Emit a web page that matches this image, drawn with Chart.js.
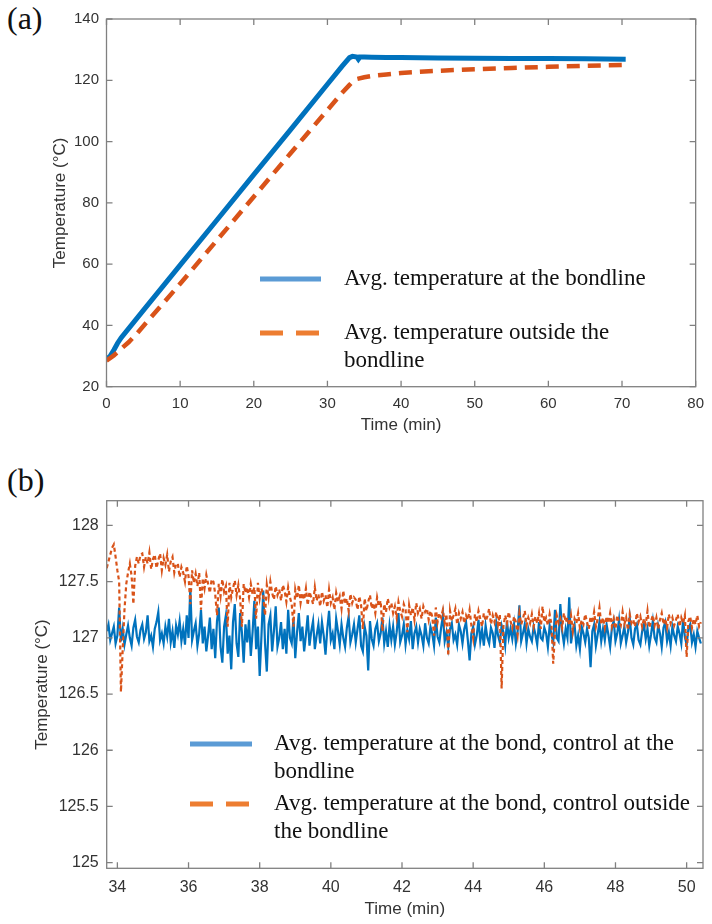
<!DOCTYPE html>
<html>
<head>
<meta charset="utf-8">
<script src="https://cdn.jsdelivr.net/npm/chart.js@4.4.1/dist/chart.umd.min.js"></script>
<style>
  html, body { margin: 0; padding: 0; background: #fff; }
  body { width: 712px; height: 924px; position: relative; overflow: hidden; }
  .panel { position: absolute; left: 0; width: 712px; }
  .tag { position: absolute; left: 7px; font: 32px/1 "Liberation Serif", "Times New Roman", serif; color: #111; }
</style>
</head>
<body>
<div class="tag" style="top:2px">(a)</div>
<div class="tag" style="top:464px">(b)</div>
<div class="panel" style="top:0; height:445px"><canvas id="chartA"></canvas></div>
<div class="panel" style="top:445px; height:479px"><canvas id="chartB"></canvas></div>
<script>
// ---- panel (a): whole cure cycle ----
const timeBondA = [0, 0.5, 1, 1.5, 2, 5, 10, 15, 20, 25, 30, 32, 33, 33.4, 34, 34.2, 34.4, 35, 36, 38, 40, 45, 50, 55, 60, 65, 70.5];
const tempBondA = [29.0, 30.0, 32.0, 34.2, 36.0, 44.9, 59.7, 74.4, 89.2, 103.9, 118.7, 124.6, 127.4, 127.8, 127.6, 126.9, 127.6, 127.6, 127.5, 127.4, 127.4, 127.3, 127.2, 127.1, 127.1, 127.0, 126.9];
const timeOutA = [0, 1, 2, 3, 4, 10, 15, 20, 25, 30, 32, 33, 33.5, 34, 35, 36, 38, 40, 45, 50, 55, 60, 65, 70.5];
const tempOutA = [28.5, 30.2, 32.4, 34.5, 37.0, 53.6, 67.8, 82.0, 96.2, 110.3, 115.9, 118.5, 119.7, 120.4, 121.0, 121.4, 121.9, 122.4, 123.1, 123.6, 124.0, 124.4, 124.7, 125.0];
const xTicksA = [0, 10, 20, 30, 40, 50, 60, 70, 80];
const yTicksA = [20, 40, 60, 80, 100, 120, 140];
const legendA = [['Avg. temperature at the bondline'], ['Avg. temperature outside the', 'bondline']];

// ---- panel (b): hold at 127 C, zoomed, one row per minute ----
const timeB = [
  33.7, 33.75, 33.8, 33.85, 33.9, 33.95, 34.0, 34.05, 34.1, 34.15, 34.2, 34.25, 34.3, 34.35, 34.4, 34.45, 34.5, 34.55, 34.6, 34.65,
  34.7, 34.75, 34.8, 34.85, 34.9, 34.95, 35.0, 35.05, 35.1, 35.15, 35.2, 35.25, 35.3, 35.35, 35.4, 35.45, 35.5, 35.55, 35.6, 35.65,
  35.7, 35.75, 35.8, 35.85, 35.9, 35.95, 36.0, 36.05, 36.1, 36.15, 36.2, 36.25, 36.3, 36.35, 36.4, 36.45, 36.5, 36.55, 36.6, 36.65,
  36.7, 36.75, 36.8, 36.85, 36.9, 36.95, 37.0, 37.05, 37.1, 37.15, 37.2, 37.25, 37.3, 37.35, 37.4, 37.45, 37.5, 37.55, 37.6, 37.65,
  37.7, 37.75, 37.8, 37.85, 37.9, 37.95, 38.0, 38.05, 38.1, 38.15, 38.2, 38.25, 38.3, 38.35, 38.4, 38.45, 38.5, 38.55, 38.6, 38.65,
  38.7, 38.75, 38.8, 38.85, 38.9, 38.95, 39.0, 39.05, 39.1, 39.15, 39.2, 39.25, 39.3, 39.35, 39.4, 39.45, 39.5, 39.55, 39.6, 39.65,
  39.7, 39.75, 39.8, 39.85, 39.9, 39.95, 40.0, 40.05, 40.1, 40.15, 40.2, 40.25, 40.3, 40.35, 40.4, 40.45, 40.5, 40.55, 40.6, 40.65,
  40.7, 40.75, 40.8, 40.85, 40.9, 40.95, 41.0, 41.05, 41.1, 41.15, 41.2, 41.25, 41.3, 41.35, 41.4, 41.45, 41.5, 41.55, 41.6, 41.65,
  41.7, 41.75, 41.8, 41.85, 41.9, 41.95, 42.0, 42.05, 42.1, 42.15, 42.2, 42.25, 42.3, 42.35, 42.4, 42.45, 42.5, 42.55, 42.6, 42.65,
  42.7, 42.75, 42.8, 42.85, 42.9, 42.95, 43.0, 43.05, 43.1, 43.15, 43.2, 43.25, 43.3, 43.35, 43.4, 43.45, 43.5, 43.55, 43.6, 43.65,
  43.7, 43.75, 43.8, 43.85, 43.9, 43.95, 44.0, 44.05, 44.1, 44.15, 44.2, 44.25, 44.3, 44.35, 44.4, 44.45, 44.5, 44.55, 44.6, 44.65,
  44.7, 44.75, 44.8, 44.85, 44.9, 44.95, 45.0, 45.05, 45.1, 45.15, 45.2, 45.25, 45.3, 45.35, 45.4, 45.45, 45.5, 45.55, 45.6, 45.65,
  45.7, 45.75, 45.8, 45.85, 45.9, 45.95, 46.0, 46.05, 46.1, 46.15, 46.2, 46.25, 46.3, 46.35, 46.4, 46.45, 46.5, 46.55, 46.6, 46.65,
  46.7, 46.75, 46.8, 46.85, 46.9, 46.95, 47.0, 47.05, 47.1, 47.15, 47.2, 47.25, 47.3, 47.35, 47.4, 47.45, 47.5, 47.55, 47.6, 47.65,
  47.7, 47.75, 47.8, 47.85, 47.9, 47.95, 48.0, 48.05, 48.1, 48.15, 48.2, 48.25, 48.3, 48.35, 48.4, 48.45, 48.5, 48.55, 48.6, 48.65,
  48.7, 48.75, 48.8, 48.85, 48.9, 48.95, 49.0, 49.05, 49.1, 49.15, 49.2, 49.25, 49.3, 49.35, 49.4, 49.45, 49.5, 49.55, 49.6, 49.65,
  49.7, 49.75, 49.8, 49.85, 49.9, 49.95, 50.0, 50.05, 50.1, 50.15, 50.2, 50.25, 50.3, 50.35, 50.4
];
const tempBondB = [
  127.06, 127.12, 126.98, 127.04, 127.10, 126.95, 127.02, 127.27, 126.97, 127.08, 126.94, 127.03, 127.11, 127.00, 126.93, 127.09, 127.16, 127.01, 126.96, 127.07,
  127.12, 126.99, 127.05, 127.20, 126.97, 127.02, 126.92, 127.08, 127.14, 127.23, 126.98, 127.04, 126.95, 127.10, 127.01, 127.17, 126.96, 127.06, 126.91, 127.11,
  127.03, 127.15, 126.97, 127.08, 126.94, 127.20, 127.00, 127.44, 126.98, 127.06, 127.13, 126.93, 127.04, 127.25, 126.95, 127.10, 126.88, 127.02, 127.18, 126.90,
  127.08, 126.82, 127.15, 127.27, 126.92, 126.78, 127.10, 127.20, 126.86, 127.02, 126.72, 127.14, 127.30, 126.95, 126.83, 127.22, 127.05, 126.78, 127.12, 126.96,
  127.16, 126.84, 127.05, 127.33, 126.90, 127.10, 126.66, 127.02, 127.42, 126.95, 126.70, 127.12, 127.20, 126.88, 127.06, 127.28, 126.92, 127.00, 127.14, 126.90,
  127.08, 126.86, 127.25, 127.00, 126.95, 127.18, 126.82, 127.05, 127.22, 126.97, 127.10, 126.88, 127.03, 127.20, 126.93, 127.06, 127.15, 126.90, 127.02, 127.12,
  126.95, 127.14, 127.02, 126.85, 127.08, 127.24, 126.98, 127.04, 126.90, 127.17, 127.06, 126.94, 127.12, 127.00, 126.92, 127.09, 127.19, 126.96, 127.03, 127.12,
  126.96, 127.08, 127.20, 126.93, 126.88, 127.10, 127.02, 126.71, 127.15, 126.99, 126.93, 127.08, 127.13, 126.97, 127.04, 127.18, 126.95, 127.06, 126.92, 127.11,
  126.98, 127.10, 126.94, 127.05, 127.22, 126.96, 127.02, 127.12, 126.94, 127.07, 126.99, 127.15, 126.90, 127.04, 127.10, 126.96, 127.08, 127.02, 126.93, 127.13,
  127.00, 126.95, 127.10, 127.04, 126.93, 127.18, 127.01, 126.96, 127.09, 127.20, 126.97, 127.05, 126.92, 127.08, 127.13, 126.98, 127.03, 126.94, 127.12, 127.06,
  126.95, 127.08, 127.14, 126.98, 126.80, 127.04, 127.10, 126.94, 127.02, 127.16, 126.97, 127.07, 126.93, 127.11, 127.00, 126.95, 127.09, 127.04, 126.91, 127.13,
  127.02, 126.96, 127.11, 127.05, 126.93, 127.15, 127.00, 127.08, 126.99, 127.12, 126.95, 127.06, 127.29, 126.97, 127.04, 127.12, 126.95, 127.08, 127.01, 126.97,
  127.10, 127.03, 126.94, 127.14, 127.00, 126.98, 127.09, 127.04, 126.92, 127.11, 127.03, 126.96, 127.25, 127.00, 126.97, 127.30, 127.06, 126.95, 127.08, 127.00,
  127.36, 126.95, 127.06, 127.12, 126.93, 127.02, 126.90, 127.10, 127.04, 126.96, 127.08, 127.00, 126.74, 127.06, 127.12, 126.93, 127.03, 127.14, 126.97, 127.08,
  126.98, 127.12, 127.03, 126.92, 127.09, 127.15, 126.97, 127.04, 127.16, 126.95, 127.02, 127.10, 126.96, 127.05, 127.18, 127.00, 126.94, 127.08, 127.12, 126.98,
  126.94, 127.06, 127.12, 126.99, 127.08, 126.93, 127.03, 127.15, 127.00, 126.96, 127.11, 127.04, 126.92, 127.09, 127.14, 126.97, 127.05, 126.93, 127.10, 127.02,
  126.97, 127.10, 127.04, 126.95, 127.16, 127.01, 126.94, 127.08, 127.12, 126.96, 127.03, 126.92, 127.06, 127.00, 126.95
];
const tempOutB = [
  127.62, 127.68, 127.74, 127.80, 127.83, 127.72, 127.60, 127.50, 126.52, 126.90, 127.25, 127.48, 127.58, 127.66, 127.55, 127.30, 127.64, 127.72, 127.66, 127.74,
  127.75, 127.63, 127.72, 127.66, 127.76, 127.61, 127.70, 127.74, 127.62, 127.69, 127.75, 127.60, 127.71, 127.65, 127.74, 127.59, 127.68, 127.72, 127.58, 127.66,
  127.66, 127.54, 127.63, 127.58, 127.50, 127.64, 127.55, 127.30, 127.60, 127.49, 127.57, 127.46, 127.58, 127.25, 127.53, 127.44, 127.56, 127.48, 127.40, 127.52,
  127.50, 127.39, 127.20, 127.48, 127.37, 127.52, 127.41, 127.46, 127.10, 127.49, 127.36, 127.44, 127.51, 127.38, 127.47, 127.35, 127.10, 127.48, 127.40, 127.45,
  127.36, 127.48, 127.39, 127.45, 127.17, 127.49, 127.35, 127.44, 127.38, 127.20, 127.47, 127.36, 127.50, 127.40, 127.34, 127.46, 127.38, 127.43, 127.33, 127.47,
  127.42, 127.32, 127.45, 127.36, 127.30, 127.10, 127.43, 127.35, 127.47, 127.31, 127.40, 127.34, 127.44, 127.29, 127.41, 127.36, 127.30, 127.45, 127.33, 127.39,
  127.28, 127.41, 127.33, 127.38, 127.27, 127.43, 127.31, 127.36, 127.25, 127.40, 127.32, 127.37, 127.26, 127.42, 127.30, 127.35, 127.24, 127.39, 127.31, 127.36,
  127.34, 127.25, 127.37, 127.29, 127.08, 127.35, 127.24, 127.32, 127.38, 127.26, 127.31, 127.22, 127.36, 127.28, 127.33, 127.06, 127.30, 127.23, 127.35, 127.27,
  127.31, 127.22, 127.28, 127.18, 127.32, 127.24, 127.19, 127.30, 127.25, 127.05, 127.29, 127.20, 127.27, 127.16, 127.31, 127.22, 127.26, 127.17, 127.28, 127.23,
  127.26, 127.16, 127.24, 127.19, 127.02, 127.27, 127.14, 127.22, 127.18, 127.25, 127.13, 127.21, 126.84, 127.24, 127.15, 127.20, 127.26, 127.12, 127.22, 127.17,
  127.23, 127.13, 127.20, 127.16, 127.25, 127.11, 127.00, 127.21, 127.14, 127.24, 127.17, 127.10, 127.22, 127.15, 127.19, 127.26, 127.12, 127.20, 127.14, 127.23,
  127.12, 127.21, 126.55, 127.10, 127.20, 127.13, 127.23, 127.15, 127.09, 127.19, 127.14, 127.03, 127.22, 127.12, 127.17, 127.24, 127.11, 127.18, 127.13, 127.21,
  127.10, 127.19, 127.13, 127.22, 127.08, 127.28, 127.14, 127.18, 127.11, 127.21, 127.12, 126.77, 127.05, 127.20, 127.13, 127.17, 127.09, 127.22, 127.14, 127.18,
  127.11, 127.20, 127.06, 127.17, 127.13, 127.22, 127.09, 127.16, 127.12, 127.21, 127.14, 127.08, 127.19, 127.13, 127.23, 127.10, 127.17, 127.27, 127.12, 127.18,
  127.09, 127.19, 127.13, 127.22, 127.10, 127.17, 127.08, 127.20, 127.14, 127.11, 127.23, 127.12, 127.18, 127.07, 127.21, 127.13, 127.16, 127.10, 127.22, 127.14,
  127.19, 127.10, 127.17, 127.12, 127.24, 127.09, 127.15, 127.20, 127.11, 127.18, 127.08, 127.16, 127.22, 127.12, 127.17, 127.09, 127.21, 127.13, 127.18, 127.11,
  127.16, 127.21, 127.10, 127.18, 127.13, 127.20, 126.83, 127.15, 127.19, 127.09, 127.17, 127.12, 127.20, 127.10, 127.14
];
const xTicksB = [34, 36, 38, 40, 42, 44, 46, 48, 50];
const yTicksB = [125, 125.5, 126, 126.5, 127, 127.5, 128];
const legendB = [['Avg. temperature at the bond, control at the', 'bondline'], ['Avg. temperature at the bond, control outside', 'the bondline']];

const BLUE = '#0072BD';
const ORANGE = '#D95319';
const BLUE_KEY = '#5B9BD5';
const ORANGE_KEY = '#ED7D31';
const AXIS = '#808080';
const LABEL = '#333333';

// box around the plot with inward ticks on all four sides (matlab look)
const matlabFrame = {
  id: 'matlabFrame',
  afterDatasetsDraw(chart) {
    const { ctx, chartArea: a, scales: { x, y } } = chart;
    const len = 6;
    ctx.save();
    ctx.strokeStyle = AXIS;
    ctx.lineWidth = 1.3;
    ctx.setLineDash([]);
    ctx.strokeRect(a.left, a.top, a.right - a.left, a.bottom - a.top);
    ctx.beginPath();
    x.ticks.forEach(t => {
      const px = x.getPixelForValue(t.value);
      ctx.moveTo(px, a.bottom); ctx.lineTo(px, a.bottom - len);
      ctx.moveTo(px, a.top); ctx.lineTo(px, a.top + len);
    });
    y.ticks.forEach(t => {
      const py = y.getPixelForValue(t.value);
      ctx.moveTo(a.left, py); ctx.lineTo(a.left + len, py);
      ctx.moveTo(a.right, py); ctx.lineTo(a.right - len, py);
    });
    ctx.stroke();
    ctx.restore();
  }
};

// legend without a box, multi-line entries
const legendBox = {
  id: 'legendBox',
  afterDraw(chart, args, opts) {
    const ctx = chart.ctx;
    ctx.save();
    ctx.font = '23px "Liberation Serif", "Times New Roman", serif';
    ctx.textBaseline = 'middle';
    ctx.textAlign = 'left';
    opts.items.forEach(item => {
      ctx.strokeStyle = item.color;
      ctx.lineWidth = 5;
      ctx.lineCap = 'butt';
      ctx.setLineDash(item.dash);
      ctx.beginPath();
      ctx.moveTo(opts.x, item.y);
      ctx.lineTo(opts.x + opts.keyLength, item.y);
      ctx.stroke();
      ctx.setLineDash([]);
      ctx.fillStyle = '#111';
      item.lines.forEach((line, i) => ctx.fillText(line, opts.textX, item.y + i * opts.lineGap));
    });
    ctx.restore();
  }
};

function setTicks(values) {
  return scale => { scale.ticks = values.map(v => ({ value: v })); };
}

function axis(cfg) {
  return {
    type: 'linear',
    min: cfg.min,
    max: cfg.max,
    afterBuildTicks: setTicks(cfg.ticks),
    afterFit: cfg.fit,
    grid: { display: false, drawTicks: false },
    border: { display: false },
    ticks: {
      color: LABEL,
      padding: cfg.pad,
      maxRotation: 0,
      autoSkip: false,
      font: { family: '"Liberation Sans", Arial, sans-serif', size: cfg.size },
      callback: value => String(value)
    },
    title: {
      display: true,
      text: cfg.title,
      color: LABEL,
      padding: cfg.titlePad,
      font: { family: '"Liberation Sans", Arial, sans-serif', size: 17 }
    }
  };
}

function xy(xs, ys) {
  return xs.map((x, i) => ({ x: x, y: ys[i] }));
}

new Chart(document.getElementById('chartA'), {
  type: 'line',
  data: {
    datasets: [
      {
        label: legendA[0].join(' '),
        data: xy(timeBondA, tempBondA),
        borderColor: BLUE,
        borderWidth: 5,
        pointRadius: 0,
        order: 1
      },
      {
        label: legendA[1].join(' '),
        data: xy(timeOutA, tempOutA),
        borderColor: ORANGE,
        borderWidth: 4.5,
        borderDash: [13, 8],
        borderCapStyle: 'butt',
        pointRadius: 0,
        order: 0
      }
    ]
  },
  options: {
    responsive: true,
    maintainAspectRatio: false,
    animation: false,
    layout: { padding: { top: 19, right: 9, bottom: 0, left: 0 } },
    plugins: {
      legend: { display: false },
      tooltip: { enabled: false },
      legendBox: {
        x: 260, keyLength: 61, textX: 344, lineGap: 28,
        items: [
          { color: BLUE_KEY, dash: [], y: 279, lines: legendA[0] },
          { color: ORANGE_KEY, dash: [23, 13], y: 333, lines: legendA[1] }
        ]
      }
    },
    scales: {
      x: axis({ min: 0, max: 80, ticks: xTicksA, size: 15, pad: 8, title: 'Time (min)',
        titlePad: { top: 0, bottom: 9 }, fit: s => { s.height = 58.3; } }),
      y: axis({ min: 20, max: 140, ticks: yTicksA, size: 15, pad: 7.5, title: 'Temperature (°C)',
        titlePad: { top: 50, bottom: 0 }, fit: s => { s.width = 106.5; } })
    }
  },
  plugins: [matlabFrame, legendBox]
});

new Chart(document.getElementById('chartB'), {
  type: 'line',
  data: {
    labels: timeB,
    datasets: [
      {
        label: legendB[0].join(' '),
        data: tempBondB,
        borderColor: BLUE,
        borderWidth: 2.2,
        pointRadius: 0,
        order: 1
      },
      {
        label: legendB[1].join(' '),
        data: tempOutB,
        borderColor: ORANGE,
        borderWidth: 2.2,
        borderDash: [4, 3],
        borderCapStyle: 'butt',
        pointRadius: 0,
        order: 0
      }
    ]
  },
  options: {
    responsive: true,
    maintainAspectRatio: false,
    animation: false,
    layout: { padding: { top: 55.7, right: 9, bottom: 0, left: 0 } },
    plugins: {
      legend: { display: false },
      tooltip: { enabled: false },
      legendBox: {
        x: 190, keyLength: 62, textX: 274, lineGap: 27.5,
        items: [
          { color: BLUE_KEY, dash: [], y: 299, lines: legendB[0] },
          { color: ORANGE_KEY, dash: [23, 13], y: 359, lines: legendB[1] }
        ]
      }
    },
    scales: {
      x: axis({ min: 33.7, max: 50.46, ticks: xTicksB, size: 16, pad: 10, title: 'Time (min)',
        titlePad: { top: 0, bottom: 4 }, fit: s => { s.height = 55.7; } }),
      y: axis({ min: 124.95, max: 128.22, ticks: yTicksB, size: 16, pad: 8, title: 'Temperature (°C)',
        titlePad: { top: 32, bottom: 0 }, fit: s => { s.width = 106.7; } })
    }
  },
  plugins: [matlabFrame, legendBox]
});
</script>
</body>
</html>
